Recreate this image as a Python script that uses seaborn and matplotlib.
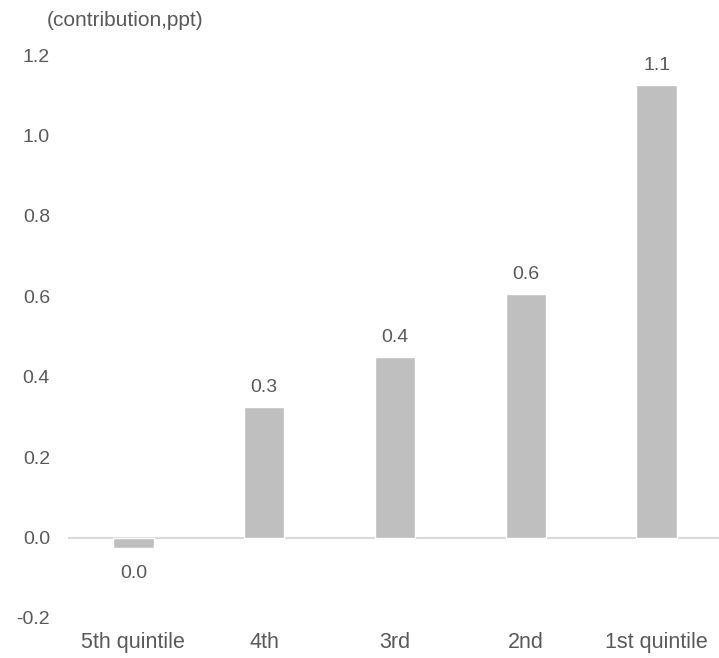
import numpy as np
import pandas as pd
import matplotlib as mpl
mpl.use("Agg")
import matplotlib.pyplot as plt
import seaborn as sns

# data
categories = ["5th quintile", "4th", "3rd", "2nd", "1st quintile"]
values = [-0.027, 0.325, 0.448, 0.605, 1.125]
value_labels = ["0.0", "0.3", "0.4", "0.6", "1.1"]

df = pd.DataFrame({"group": categories, "value": values})

sns.set_style("white")
plt.rcParams['font.family'] = ['Liberation Sans', 'DejaVu Sans']

text_color = "#595959"

f = plt.figure(figsize=(7.19, 6.58), dpi=100)
ax = f.add_axes([68 / 719, 40 / 658, 654 / 719, 563 / 658])

sns.barplot(data=df, x="group", y="value", color="#BFBFBF", saturation=1,
            width=0.31, ax=ax)

ax.set_ylim(-0.2, 1.2)
ax.set_xlim(-0.5, 4.5)
yt = np.arange(-0.2, 1.21, 0.2)
ax.set_yticks(yt)
ax.set_yticklabels(["{:.1f}".format(t) for t in yt])
ax.tick_params(axis="both", length=0, colors=text_color)
ax.tick_params(axis="y", pad=13, labelsize=14)
ax.tick_params(axis="x", pad=10, labelsize=15.5)
ax.set_xlabel("")
ax.set_ylabel("")

for s in ax.spines.values():
    s.set_visible(False)
ax.axhline(0, color="#D9D9D9", linewidth=1.5, zorder=0)

# value labels: above positive bars, below negative ones
for i, (v, lab) in enumerate(zip(values, value_labels)):
    if v >= 0:
        ax.annotate(lab, (i, v), xytext=(0, 8), textcoords="offset points",
                    ha="center", va="bottom", fontsize=14, color=text_color)
    else:
        ax.annotate(lab, (i, v), xytext=(0, -12), textcoords="offset points",
                    ha="center", va="top", fontsize=14, color=text_color)

f.text(47 / 719, 1 - 20 / 658, "(contribution,ppt)", fontsize=15,
       color=text_color, va="center", ha="left")

f.savefig("out.png", dpi=100)
